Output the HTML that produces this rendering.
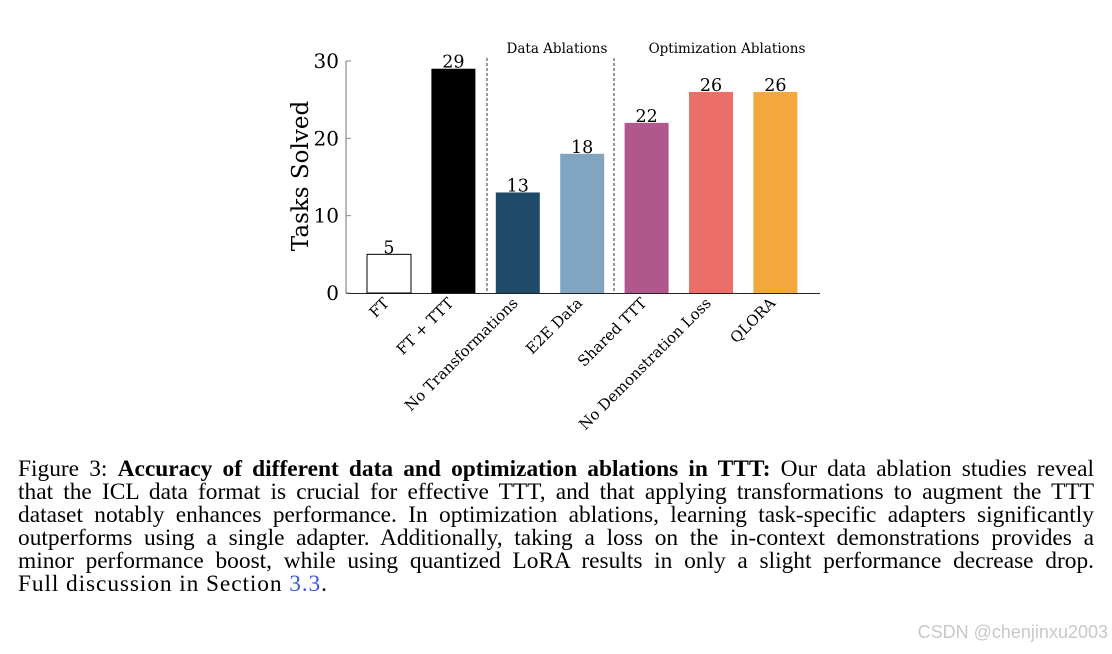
<!DOCTYPE html>
<html><head><meta charset="utf-8"><style>
body{margin:0;width:1112px;height:654px;background:#fff;overflow:hidden;position:relative}
.cap{position:absolute;left:18px;width:1076px;font-family:"Liberation Serif",serif;font-size:23.4px;line-height:23px;color:#000}
.cap div{text-align:justify;text-align-last:justify;white-space:nowrap}
.cap div.last{text-align-last:left;letter-spacing:0.9px}
.wm{position:absolute;right:4px;top:622px;font-family:"Liberation Sans",sans-serif;font-size:18px;color:#c8c8c8}
</style></head><body>
<svg id="chart" width="1112" height="440" style="position:absolute;left:0;top:0" font-family="DejaVu Serif, Liberation Serif, serif"></svg>
<div class="cap" style="top:458px">
<div>Figure 3: <b>Accuracy of different data and optimization ablations in TTT:</b> Our data ablation studies reveal</div>
<div>that the ICL data format is crucial for effective TTT, and that applying transformations to augment the TTT</div>
<div>dataset notably enhances performance. In optimization ablations, learning task-specific adapters significantly</div>
<div>outperforms using a single adapter. Additionally, taking a loss on the in-context demonstrations provides a</div>
<div>minor performance boost, while using quantized LoRA results in only a slight performance decrease drop.</div>
<div class="last">Full discussion in Section <span style="color:#3a5bd9">3.3</span>.</div>
</div>
<div class="wm">CSDN @chenjinxu2003</div>
<script>
const categories=["FT","FT + TTT","No Transformations","E2E Data","Shared TTT","No Demonstration Loss","QLORA"];
const values=[5,29,13,18,22,26,26];
const colors=["#ffffff","#000000","#1f4a68","#81a5c0","#b0588e","#ec6e68","#f2a83e"];
const yTicks=[0,10,20,30];
const svg=document.getElementById('chart');
const NS='http://www.w3.org/2000/svg';
function y(v){return 293-v*(232/30);}
function xc(i){return 389+i*64.4;}
function mk(t,a,txt){const e=document.createElementNS(NS,t);for(const k in a)e.setAttribute(k,a[k]);if(txt!==undefined)e.textContent=txt;svg.appendChild(e);return e;}
let ax=mk('line',{x1:346,y1:y(30),x2:346,y2:293,stroke:'#888','stroke-width':1.2});


let bx=mk('line',{x1:346,y1:293.5,x2:820,y2:293.5,stroke:'#222','stroke-width':1});


yTicks.forEach(t=>{
  const l=mk('line',{x1:346,y1:y(t),x2:351,y2:y(t),stroke:'#888'});
  
  
  const tx=mk('text',{x:339,y:y(t)+7,'text-anchor':'end','font-size':20},t);
  
  
});
const yt=mk('text',{transform:'translate(308,176) rotate(-90)','text-anchor':'middle','font-size':23},'Tasks Solved');


[487,614].forEach(xx=>{
  const d=mk('line',{x1:xx,y1:58,x2:xx,y2:293,stroke:'#333','stroke-dasharray':'3,2','stroke-width':1});
  
  
});
const g1=mk('text',{x:557,y:53,'text-anchor':'middle','font-size':13.5},'Data Ablations');


const g2=mk('text',{x:727,y:53,'text-anchor':'middle','font-size':13.5},'Optimization Ablations');


categories.forEach((c,i)=>{
  const b=mk('rect',{x:xc(i)-22,y:y(values[i]),width:44,height:293-y(values[i]),fill:colors[i],stroke:i==0?'#000':'none','stroke-width':1});
  
  
  const v=mk('text',{x:xc(i),y:y(values[i])-1,'text-anchor':'middle','font-size':17.5},values[i]);
  
  
  const lb=mk('text',{transform:`translate(${xc(i)+1},${304}) rotate(-45)`,'text-anchor':'end','font-size':15},c);
  
  
});
</script>
</body></html>
